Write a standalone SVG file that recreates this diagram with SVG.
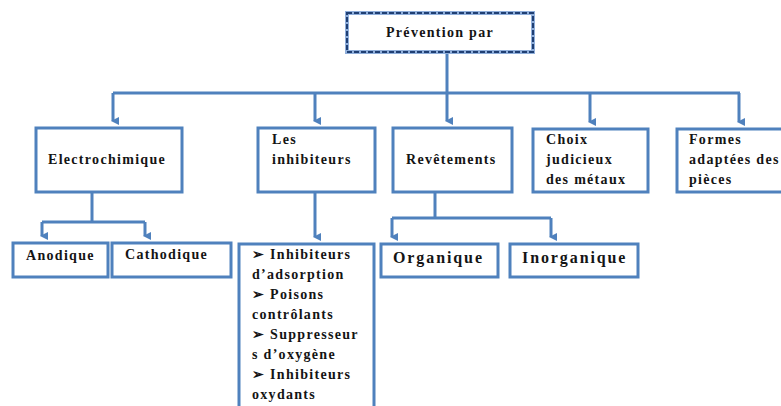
<svg xmlns="http://www.w3.org/2000/svg" width="781" height="406" viewBox="0 0 781 406">
<defs>
<style>
.box{fill:#fff;stroke:#4F81BD;stroke-width:3}
.ln{fill:none;stroke:#4F81BD;stroke-width:3}
.t{font-family:"Liberation Serif","Times New Roman",serif;font-weight:bold;font-size:14px;letter-spacing:1.3px;fill:#141414}
.tb{font-family:"Liberation Serif","Times New Roman",serif;font-weight:bold;font-size:16px;letter-spacing:1.9px;fill:#141414}
</style>
<marker id="ah" markerWidth="8" markerHeight="8" refX="4" refY="6" orient="auto-start-reverse" markerUnits="userSpaceOnUse" viewBox="0 0 8 8">
<path d="M0,0 L8,0 L4,8 Z" fill="#4F81BD"/>
</marker>
</defs>
<rect width="781" height="406" fill="#fff"/>
<g id="connectors">
<path class="ln" d="M447,52 V93"/>
<path class="ln" d="M113,93 H740"/>
<path class="ln" d="M113,93 V121" marker-end="url(#ah)"/>
<path class="ln" d="M315,93 V121" marker-end="url(#ah)"/>
<path class="ln" d="M447,93 V121" marker-end="url(#ah)"/>
<path class="ln" d="M590,93 V122" marker-end="url(#ah)"/>
<path class="ln" d="M739,93 V122" marker-end="url(#ah)"/>
<path class="ln" d="M92,192 V222"/>
<path class="ln" d="M42,222 H145"/>
<path class="ln" d="M42,222 V236" marker-end="url(#ah)"/>
<path class="ln" d="M145,222 V236" marker-end="url(#ah)"/>
<path class="ln" d="M315,192 V237" marker-end="url(#ah)"/>
<path class="ln" d="M435,192 V218"/>
<path class="ln" d="M392,218 H551"/>
<path class="ln" d="M392,218 V237" marker-end="url(#ah)"/>
<path class="ln" d="M551,218 V237" marker-end="url(#ah)"/>
</g>
<g id="prevention">
<rect x="347" y="13" width="186" height="39" fill="#fff" stroke="#8FAEDA" stroke-width="4"/>
<rect x="347" y="13" width="186" height="39" fill="none" stroke="#1F3F73" stroke-width="2" stroke-dasharray="5,2"/>
<text class="t" x="386" y="37">Prévention par</text>
</g>
<g id="electrochimique">
<rect class="box" x="36" y="128" width="146" height="64"/>
<text class="t" x="48" y="164">Electrochimique</text>
</g>
<g id="inhibiteurs">
<rect class="box" x="258" y="128" width="117" height="64"/>
<text class="t" x="272" y="144">Les</text>
<text class="t" x="272" y="164">inhibiteurs</text>
</g>
<g id="revetements">
<rect class="box" x="393" y="128" width="119" height="64"/>
<text class="t" x="406" y="164">Revêtements</text>
</g>
<g id="choix">
<rect class="box" x="533" y="129" width="115" height="63"/>
<text class="t" x="546" y="144">Choix</text>
<text class="t" x="546" y="164">judicieux</text>
<text class="t" x="546" y="184">des métaux</text>
</g>
<g id="formes">
<rect class="box" x="677" y="129" width="110" height="63"/>
<text class="t" x="689" y="144">Formes</text>
<text class="t" x="689" y="164">adaptées des</text>
<text class="t" x="689" y="184">pièces</text>
</g>
<g id="anodique">
<rect class="box" x="13" y="243" width="95" height="34"/>
<text class="t" x="26" y="260">Anodique</text>
</g>
<g id="cathodique">
<rect class="box" x="112" y="243" width="119" height="34"/>
<text class="t" x="125" y="259">Cathodique</text>
</g>
<g id="liste">
<rect class="box" x="239" y="244" width="135" height="180"/>
<text class="t" x="252" y="259">➢ Inhibiteurs</text>
<text class="t" x="252" y="279">d’adsorption</text>
<text class="t" x="252" y="299">➢ Poisons</text>
<text class="t" x="252" y="319">contrôlants</text>
<text class="t" x="252" y="339">➢ Suppresseur</text>
<text class="t" x="252" y="359">s d’oxygène</text>
<text class="t" x="252" y="379">➢ Inhibiteurs</text>
<text class="t" x="252" y="399">oxydants</text>
</g>
<g id="organique">
<rect class="box" x="381" y="244" width="117" height="33"/>
<text class="tb" x="393" y="263">Organique</text>
</g>
<g id="inorganique">
<rect class="box" x="510" y="244" width="128" height="33"/>
<text class="tb" x="522" y="263">Inorganique</text>
</g>
</svg>
